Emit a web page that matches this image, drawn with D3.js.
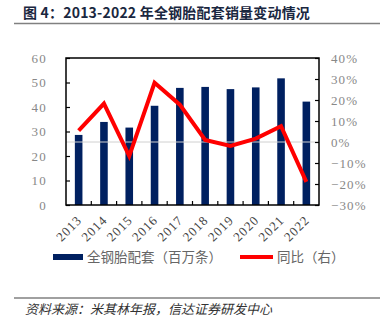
<!DOCTYPE html>
<html><head><meta charset="utf-8">
<script src="https://cdn.jsdelivr.net/npm/d3@7"></script>
<style>
body{margin:0;background:#fff;}
svg{display:block;}
</style></head>
<body>
<svg id="c" width="386" height="328"></svg>
<script>
const years = ["2013","2014","2015","2016","2017","2018","2019","2020","2021","2022"];
const sales = [28.6, 33.9, 31.6, 40.5, 47.8, 48.2, 47.3, 48.0, 51.7, 42.2];
const yoy = [5.4, 18.3, -6.7, 28.2, 17.8, 1.0, -1.9, 1.6, 7.5, -19.0];
const leftTicks = [0,10,20,30,40,50,60];
const rightTicks = [-30,-20,-10,0,10,20,30,40];
const title = "图 4：2013-2022 年全钢胎配套销量变动情况";
const source = "资料来源：米其林年报，信达证券研发中心";
const legendLabels = ["全钢胎配套（百万条）","同比（右）"];

const svg = d3.select("#c");
const L = 66, R = 319, T = 58, B = 205;
const x = d3.scaleBand().domain(years).range([L, R]).padding(0);
const yL = d3.scaleLinear().domain([0,60]).range([B, T]);
const yR = d3.scaleLinear().domain([-30,40]).range([B, T]);

// title
svg.append("text").attr("x",23).attr("y",17.5).text(title)
  .attr("font-family","'Noto Sans CJK SC'").attr("font-weight","bold").attr("font-size",14)
  .attr("fill","#1a2740").attr("letter-spacing",0.2);
svg.append("line").attr("x1",14).attr("x2",380).attr("y1",23.5).attr("y2",23.5)
  .attr("stroke","#808080").attr("stroke-width",1.5);

// bars
const bw = x.bandwidth()*0.3;
svg.append("g").selectAll("rect").data(years).join("rect")
  .attr("x", (d)=> x(d)+x.bandwidth()/2 - bw/2)
  .attr("width", bw)
  .attr("y", (d,i)=> yL(sales[i]))
  .attr("height", (d,i)=> yL(0)-yL(sales[i]))
  .attr("fill","#002060");

// zero line
svg.append("line").attr("x1",L).attr("x2",R).attr("y1",yR(0)).attr("y2",yR(0))
  .attr("stroke","#d0d0d0").attr("stroke-width",1);

// line
const line = d3.line().x((d,i)=>x(years[i])+x.bandwidth()/2).y(d=>yR(d));
svg.append("path").datum(yoy).attr("d",line).attr("fill","none")
  .attr("stroke","#ff0000").attr("stroke-width",4).attr("stroke-linejoin","miter").attr("stroke-linecap","butt");

// frame
svg.append("rect").attr("x",L).attr("y",T).attr("width",R-L).attr("height",B-T)
  .attr("fill","none").attr("stroke","#000").attr("stroke-width",1.5);

// left axis
const gl = svg.append("g").attr("transform",`translate(${L},0)`)
  .call(d3.axisLeft(yL).tickValues(leftTicks).tickSize(-4).tickPadding(19).tickFormat(d3.format("d")));
gl.select(".domain").remove();
gl.selectAll("line").attr("stroke","#000").attr("stroke-width",1.2);
gl.selectAll("text").attr("font-family","'Liberation Serif'").attr("font-size",13)
  .attr("fill","#888").attr("letter-spacing",1.3);

// right axis
const gr = svg.append("g").attr("transform",`translate(${R},0)`)
  .call(d3.axisRight(yR).tickValues(rightTicks).tickSize(-4).tickPadding(12).tickFormat(d=> (d<0?"−":"")+Math.abs(d)+"%"));
gr.select(".domain").remove();
gr.selectAll("line").attr("stroke","#000").attr("stroke-width",1.2);
gr.selectAll("text").attr("font-family","'Liberation Serif'").attr("font-size",13)
  .attr("fill","#888").attr("letter-spacing",1.1);

// x ticks at band boundaries
svg.append("g").selectAll("line").data(years.slice(1)).join("line")
  .attr("x1",d=>x(d)).attr("x2",d=>x(d)).attr("y1",B).attr("y2",B-4)
  .attr("stroke","#000").attr("stroke-width",1.2);

// x labels
const gx = svg.append("g").attr("transform",`translate(0,${B})`)
  .call(d3.axisBottom(x).tickSize(0).tickPadding(0));
gx.select(".domain").remove();
gx.selectAll("text").attr("font-family","'Liberation Serif'").attr("font-size",13)
  .attr("fill","#444").attr("letter-spacing",1)
  .attr("text-anchor","end").attr("dy",null).attr("y",0)
  .attr("transform","translate(4,16) rotate(-45)");

// legend
svg.append("rect").attr("x",53).attr("y",254).attr("width",30).attr("height",6).attr("fill","#002060");
svg.append("text").attr("x",87).attr("y",262).text(legendLabels[0])
  .attr("font-family","'Noto Sans CJK SC'").attr("font-size",13.5).attr("fill","#666");
svg.append("line").attr("x1",240).attr("x2",273).attr("y1",257).attr("y2",257)
  .attr("stroke","#ff0000").attr("stroke-width",4);
svg.append("text").attr("x",277).attr("y",262).text(legendLabels[1])
  .attr("font-family","'Noto Sans CJK SC'").attr("font-size",13.5).attr("fill","#666");

// bottom rule & source
svg.append("line").attr("x1",14).attr("x2",380).attr("y1",298).attr("y2",298)
  .attr("stroke","#808080").attr("stroke-width",1.5);
svg.append("text").attr("x",25).attr("y",314).text(source)
  .attr("font-family","'Noto Sans CJK SC'").attr("font-size",13).attr("font-style","italic")
  .attr("fill","#333");
</script>
</body></html>
